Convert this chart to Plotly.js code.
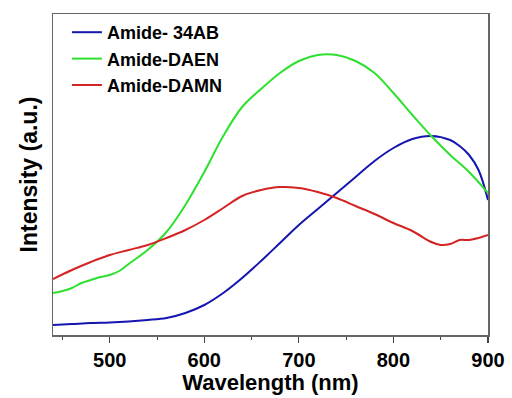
<!DOCTYPE html>
<html>
<head>
<meta charset="utf-8">
<script src="https://cdn.plot.ly/plotly-3.0.1.min.js"></script>
<style>html,body{margin:0;padding:0;background:#fff;}#chart{width:512px;height:398px;}</style>
</head>
<body>
<div id="chart"></div>
<script>
const wlBlue = [440,460,480,500,520,540,560,580,600,620,640,660,680,700,720,740,760,780,800,820,840,860,870,880,890,900];
const blue34AB = [10,11,12,12.5,13.5,15,17,22,30,42,57,74,92,110,126,142,158,174,187,196,199,195,189,180,165,135];

const wlGreen = [440,450,460,470,480,490,500,510,520,540,560,580,600,620,640,660,680,700,720,740,760,780,800,820,840,860,880,900];
const greenDAEN = [42,44,47,52,55,58,60,64,71,85,103,130,163,199,228,246,262,274,280,280,274,262,242,220,199,180,163,142];

const wlRed = [440,460,480,500,520,540,560,580,600,620,640,660,680,700,720,740,760,780,800,820,840,850,860,870,880,890,900];
const redDAMN = [56,65,73,80,85,90,97,105,115,127,139,145,148,147,143,137,129,121,112,104,93,90,91,95,95,97,100];

const seriesNames = ["Amide- 34AB", "Amide-DAEN", "Amide-DAMN"];
const xTicks = [500,600,700,800,900];

const font = {family: "Liberation Sans, Arial, sans-serif", color: "#000", weight: "bold"};

const traces = [
  {x: wlBlue, y: blue34AB, name: seriesNames[0], mode: "lines", line: {color: "#1515b0", width: 2, shape: "spline"}},
  {x: wlGreen, y: greenDAEN, name: seriesNames[1], mode: "lines", line: {color: "#2ee02e", width: 2, shape: "spline"}},
  {x: wlRed, y: redDAMN, name: seriesNames[2], mode: "lines", line: {color: "#d42323", width: 2, shape: "spline"}}
];

const layout = {
  width: 512, height: 398,
  margin: {l: 53, r: 24, t: 14, b: 63},
  paper_bgcolor: "#fff", plot_bgcolor: "#fff",
  showlegend: true,
  legend: {x: 0.032, y: 1.0, xanchor: "left", yanchor: "top", bgcolor: "rgba(0,0,0,0)",
           font: Object.assign({}, font, {size: 18}), tracegroupgap: 0, itemwidth: 30},
  xaxis: {
    range: [440, 900], tickvals: xTicks, ticktext: xTicks.map(String),
    showgrid: false, zeroline: false, showline: true, mirror: true, linecolor: "#666", linewidth: 1.5,
    ticks: "outside", ticklen: 6, tickwidth: 1.2, tickcolor: "#444", ticklabelstandoff: 0,
    minor: {dtick: 50, tick0: 450, ticks: "outside", ticklen: 3, tickwidth: 1, tickcolor: "#444"},
    tickfont: Object.assign({}, font, {size: 20}),
    title: {text: "Wavelength (nm)", font: Object.assign({}, font, {size: 22}), standoff: 2}
  },
  yaxis: {
    range: [0, 321], showticklabels: false, ticks: "",
    showgrid: false, zeroline: false, showline: true, mirror: true, linecolor: "#666", linewidth: 1.5,
    title: {text: "Intensity (a.u.)", font: Object.assign({}, font, {size: 23}), standoff: 7}
  }
};

Plotly.newPlot("chart", traces, layout, {staticPlot: true, displayModeBar: false});
</script>
</body>
</html>
